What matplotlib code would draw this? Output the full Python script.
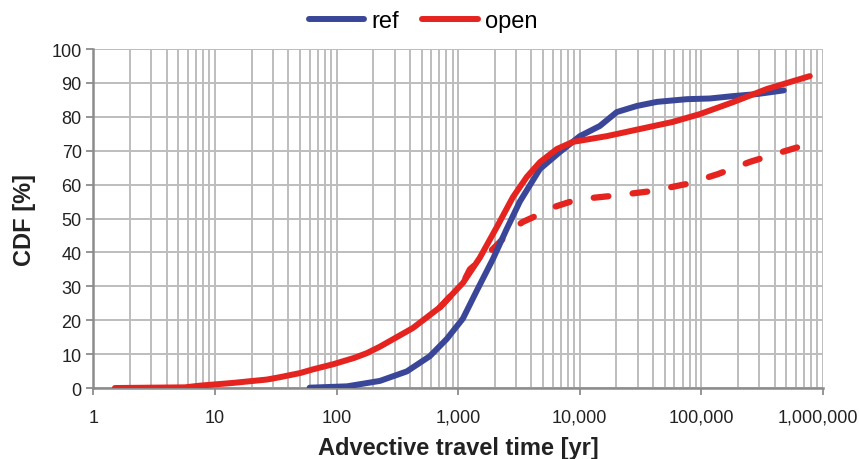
import matplotlib
matplotlib.use("Agg")
import matplotlib.pyplot as plt
import matplotlib.transforms as mtransforms
from matplotlib.ticker import FixedLocator, LogLocator, NullFormatter

plt.rcParams['font.family'] = ['Liberation Sans', 'DejaVu Sans']

# travel time [yr] vs CDF [%]
ref_t = [60, 122, 227, 378, 585, 807, 1094, 1426, 1928, 2512, 3214, 4699,
         6855, 10020, 14620, 20180, 29470, 43030, 75980, 117400, 181600,
         286000, 476600]
ref_cdf = [0.1, 0.5, 2.1, 4.9, 9.4, 14.5, 20.5, 28.8, 38, 47, 55, 64.6,
           69.6, 74.3, 77.3, 81.4, 83.2, 84.4, 85.2, 85.4, 86.1,
           86.7, 87.8]

open_t = [1.5, 2.9, 5.65, 7.5, 14, 26.7, 34.2, 49.9, 63.8, 93.3, 140, 177.6,
          227, 424, 707, 1094, 1510, 2080, 2818, 3673, 4699, 6486, 8776,
          16710, 31190, 58340, 97240, 181600, 345700, 779900]
open_cdf = [0, 0.1, 0.2, 0.7, 1.5, 2.5, 3.2, 4.4, 5.5, 7.0, 8.9, 10.3,
            12.2, 17.7, 23.8, 31, 38.5, 47.5, 56.3, 62.3, 66.6, 70.5, 72.6,
            74.3, 76.4, 78.5, 80.8, 84.3, 88.2, 92]

open2_t = [707, 1094, 1248, 1928, 2818, 3404, 4699, 5679, 8776, 10610, 18720,
           39200, 75980, 136800, 250600, 459100, 765600]
open2_cdf = [23.8, 31, 35, 41, 47, 49, 51.3, 53, 55.2, 55.8, 56.7,
             58.1, 60.2, 63.1, 66.7, 69.6, 72]

xticks = [1, 10, 100, 1e3, 1e4, 1e5, 1e6]
xticklabels = ['1', '10', '100', '1,000', '10,000', '100,000', '1,000,000']

blue = '#3a4799'
red = '#e5231f'
grid = '#bdbdbd'
axc = '#8c8c8c'
txt = '#222222'

fig = plt.figure(figsize=(8.59, 4.60), dpi=100)
ax = fig.add_axes([0.1088, 0.1543, 0.8492, 0.737])

ax.plot(open2_t, open2_cdf, color=red, lw=4.5, ls=(0, (2.36, 3.9)),
        dash_capstyle='round', solid_capstyle='round', zorder=3)
ax.plot(ref_t, ref_cdf, color=blue, lw=4.3, solid_capstyle='round',
        label='ref', zorder=4)
ax.plot(open_t, open_cdf, color=red, lw=4.3, solid_capstyle='round',
        label='open', zorder=5)

ax.set_xscale('log')
ax.set_xlim(1, 1e6)
ax.set_ylim(0, 100)
ax.set_yticks(range(0, 101, 10))
ax.xaxis.set_major_locator(FixedLocator(xticks))
ax.set_xticklabels(xticklabels)
ax.xaxis.set_minor_locator(LogLocator(base=10, subs=range(2, 10), numticks=20))
ax.xaxis.set_minor_formatter(NullFormatter())

ax.grid(True, which='both', color=grid, lw=1.4, zorder=0)
ax.set_axisbelow(True)
for s in ['top', 'right']:
    ax.spines[s].set_visible(False)
for s in ['left', 'bottom']:
    ax.spines[s].set_color(axc)
    ax.spines[s].set_linewidth(1.8)
    ax.spines[s].set_zorder(2)
ax.tick_params(axis='both', which='major', color=axc, width=1.3, length=5,
               labelsize=13, labelcolor=txt)
ax.tick_params(axis='x', which='minor', length=0)
ax.tick_params(axis='x', pad=10)

# last label sits a bit left so it fits the figure
last = ax.get_xticklabels()[-1]
last.set_transform(last.get_transform() +
                   mtransforms.ScaledTranslation(-5 / 100, 0, fig.dpi_scale_trans))

ax.set_xlabel('Advective travel time [yr]', fontsize=17, fontweight='bold',
              color=txt, labelpad=7)
ax.set_ylabel('CDF [%]', fontsize=17, fontweight='bold', color=txt,
              labelpad=11)

fig.legend(loc='center', bbox_to_anchor=(0.4925, 0.952), ncol=2, frameon=False,
           fontsize=17, handlelength=2.35, handletextpad=0.3, columnspacing=1.0)

fig.savefig('out.png', dpi=100)
